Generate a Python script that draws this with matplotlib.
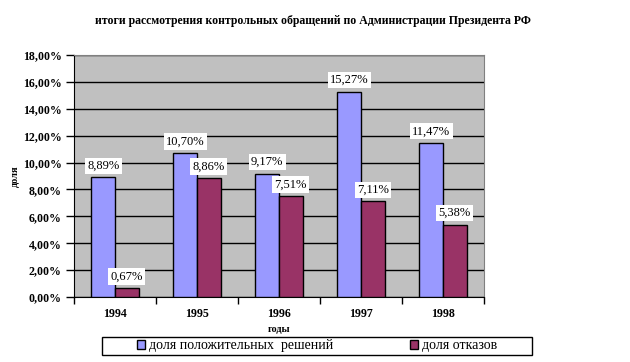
import numpy as np
import matplotlib
matplotlib.use('Agg')
import matplotlib.pyplot as plt
from matplotlib.patches import Rectangle, Patch
from matplotlib.ticker import MultipleLocator, FuncFormatter

plt.rcParams['font.family'] = ['Liberation Serif', 'DejaVu Serif']

# данные
years = ['1994', '1995', '1996', '1997', '1998']
dolya_pol = [8.89, 10.70, 9.17, 15.27, 11.47]
dolya_otk = [0.67, 8.86, 7.51, 7.11, 5.38]
series_names = ['доля положительных  решений', 'доля отказов']
title = 'итоги рассмотрения контрольных обращений по Администрации Президента РФ'

col_blue = '#9999FF'
col_red = '#993366'

W, H = 630, 362
fig = plt.figure(figsize=(W / 100, H / 100), dpi=100)
ax = fig.add_axes([74 / W, 65 / H, 410 / W, 242 / H])
ax.set_facecolor('#C0C0C0')

x = np.arange(len(years))
bw = 0.287
b1 = ax.bar(x - bw / 2, dolya_pol, bw, color=col_blue, edgecolor='black', linewidth=1, zorder=3)
b2 = ax.bar(x + bw / 2, dolya_otk, bw, color=col_red, edgecolor='black', linewidth=1, zorder=3)

# подписи значений
for bars, vals in ((b1, dolya_pol), (b2, dolya_otk)):
    for b, v in zip(bars, vals):
        ax.annotate(('%.2f%%' % v).replace('.', ','),
                    (b.get_x() + b.get_width() / 2, v),
                    xytext=(0, 4), textcoords='offset points',
                    ha='center', va='bottom', fontsize=9, zorder=5,
                    bbox=dict(boxstyle='square,pad=0.18', fc='white', ec='none'))

ax.set_xlim(-0.5, len(years) - 0.5)
ax.set_ylim(0, 18)
ax.yaxis.set_major_locator(MultipleLocator(2))
ax.yaxis.set_major_formatter(FuncFormatter(lambda v, p: ('%.2f%%' % v).replace('.', ',')))
ax.yaxis.grid(True, color='black', linewidth=1)
ax.set_axisbelow(True)

# подписи лет по центрам, засечки на границах
ax.set_xticks(x)
ax.set_xticklabels(years, fontweight='bold', fontsize=8.6)
ax.set_xticks(np.arange(-0.5, len(years), 1), minor=True)
ax.tick_params(axis='x', which='major', length=0, pad=8)
ax.tick_params(axis='x', which='minor', length=5, width=1, direction='out')
ax.tick_params(axis='y', length=6, width=1, direction='out', labelsize=8.6, pad=3)
for lab in ax.get_yticklabels():
    lab.set_fontweight('bold')

for s in ('top', 'right'):
    ax.spines[s].set_color('#808080')
for s in ('left', 'bottom'):
    ax.spines[s].set_color('black')

fig.text(313 / W, 1 - 21 / H, title, ha='center', va='center', fontsize=8.5, fontweight='bold')
fig.text(279 / W, 1 - 330 / H, 'годы', ha='center', va='center', fontsize=7.5, fontweight='bold')
fig.text(15 / W, 1 - 176 / H, 'доля', ha='center', va='center', rotation=90, fontsize=7.5, fontweight='bold')

# легенда
fig.patches.append(Rectangle((102 / W, 1 - 355 / H), 430 / W, 18 / H, transform=fig.transFigure,
                             fc='white', ec='black', lw=1))
handles = [Patch(fc=col_blue, ec='black', lw=1), Patch(fc=col_red, ec='black', lw=1)]
fig.legend(handles, series_names, loc='center', bbox_to_anchor=(317 / W, 1 - 346 / H),
           ncol=2, frameon=False, fontsize=10, handlelength=0.6, handleheight=0.6,
           handletextpad=0.3, columnspacing=5.5, borderpad=0)

fig.savefig('out.png', dpi=100)
